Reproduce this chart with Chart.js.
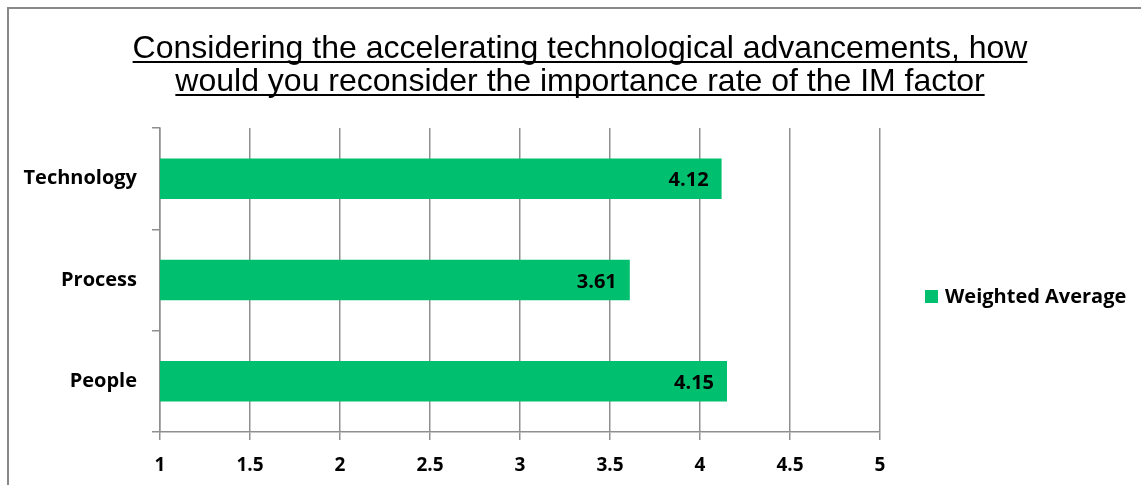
<!DOCTYPE html>
<html>
<head>
<meta charset="utf-8">
<script src="https://cdn.jsdelivr.net/npm/chart.js@4.4.1/dist/chart.umd.min.js"></script>
<style>
  html, body { margin: 0; padding: 0; background: #fff; }
  canvas { display: block; }
</style>
</head>
<body>
<canvas id="imChart" width="1141" height="485"></canvas>
<script>
const titleLines = [
  'Considering the accelerating technological advancements, how',
  'would you reconsider the importance rate of the IM factor'
];
const factors = ['Technology', 'Process', 'People'];
const weightedAvg = [4.12, 3.61, 4.15];
const seriesName = 'Weighted Average';
const barColor = '#00BF6F';
const gridGray = '#8f8f8f';
const labelFont = '"Open Sans", Lato, sans-serif';

// gray frame along the top and left edges
const framePlugin = {
  id: 'frame',
  beforeDraw(chart) {
    const c = chart.ctx;
    c.save();
    c.strokeStyle = '#888';
    c.lineWidth = 2;
    c.beginPath();
    c.moveTo(8, chart.height);
    c.lineTo(8, 8);
    c.lineTo(chart.width, 8);
    c.stroke();
    c.restore();
  }
};

// two-line underlined title
const titlePlugin = {
  id: 'underlinedTitle',
  afterDraw(chart) {
    const c = chart.ctx;
    const cx = 580;
    const baselines = [58, 91];
    c.save();
    c.font = '32px "Liberation Sans", Arial, sans-serif';
    c.fillStyle = '#000';
    c.strokeStyle = '#000';
    c.lineWidth = 2;
    c.textAlign = 'center';
    c.textBaseline = 'alphabetic';
    titleLines.forEach((line, i) => {
      const w = c.measureText(line).width;
      c.fillText(line, cx, baselines[i]);
      c.beginPath();
      c.moveTo(cx - w / 2, baselines[i] + 4);
      c.lineTo(cx + w / 2, baselines[i] + 4);
      c.stroke();
    });
    c.restore();
  }
};

// value printed inside the end of each bar
const valueLabels = {
  id: 'valueLabels',
  afterDatasetsDraw(chart) {
    const c = chart.ctx;
    const meta = chart.getDatasetMeta(0);
    const ds = chart.data.datasets[0];
    c.save();
    c.font = 'bold 20px ' + labelFont;
    c.fillStyle = '#000';
    c.textAlign = 'right';
    c.textBaseline = 'middle';
    meta.data.forEach((bar, i) => {
      c.fillText(ds.data[i].toFixed(2), bar.x - 13, bar.y + 2);
    });
    c.restore();
  }
};

// legend entry to the right of the plot
const sideLegend = {
  id: 'sideLegend',
  afterDraw(chart) {
    const c = chart.ctx;
    const ds = chart.data.datasets[0];
    c.save();
    c.fillStyle = ds.backgroundColor;
    c.fillRect(925, 290, 13, 13);
    c.font = 'bold 20px ' + labelFont;
    c.fillStyle = '#000';
    c.textAlign = 'left';
    c.textBaseline = 'middle';
    c.fillText(ds.label, 945, 297);
    c.restore();
  }
};

const ctx = document.getElementById('imChart').getContext('2d');
new Chart(ctx, {
  type: 'bar',
  data: {
    labels: factors,
    datasets: [{
      label: seriesName,
      data: weightedAvg,
      backgroundColor: barColor,
      borderWidth: 0,
      categoryPercentage: 1,
      barPercentage: 0.4
    }]
  },
  options: {
    indexAxis: 'y',
    responsive: false,
    animation: false,
    layout: { padding: { top: 128, right: 261, bottom: 0, left: 0 } },
    plugins: {
      legend: { display: false },
      title: { display: false },
      tooltip: { enabled: false }
    },
    scales: {
      x: {
        min: 1,
        max: 5,
        afterFit(scale) { scale.height = 53; },
        ticks: {
          stepSize: 0.5,
          color: '#000',
          padding: 14,
          callback: (v) => String(v),
          font: { family: labelFont, size: 19, weight: 'bold' }
        },
        grid: { color: gridGray, lineWidth: 1.5, tickLength: 8 },
        border: { color: gridGray, width: 1.5 }
      },
      y: {
        afterFit(scale) { scale.width = 160; },
        ticks: {
          color: '#000',
          padding: 15,
          font: { family: labelFont, size: 20, weight: 'bold' }
        },
        grid: { offset: true, drawOnChartArea: false, color: gridGray, lineWidth: 1.5, tickLength: 8 },
        border: { color: gridGray, width: 1.5 }
      }
    }
  },
  plugins: [framePlugin, titlePlugin, valueLabels, sideLegend]
});
</script>
</body>
</html>
